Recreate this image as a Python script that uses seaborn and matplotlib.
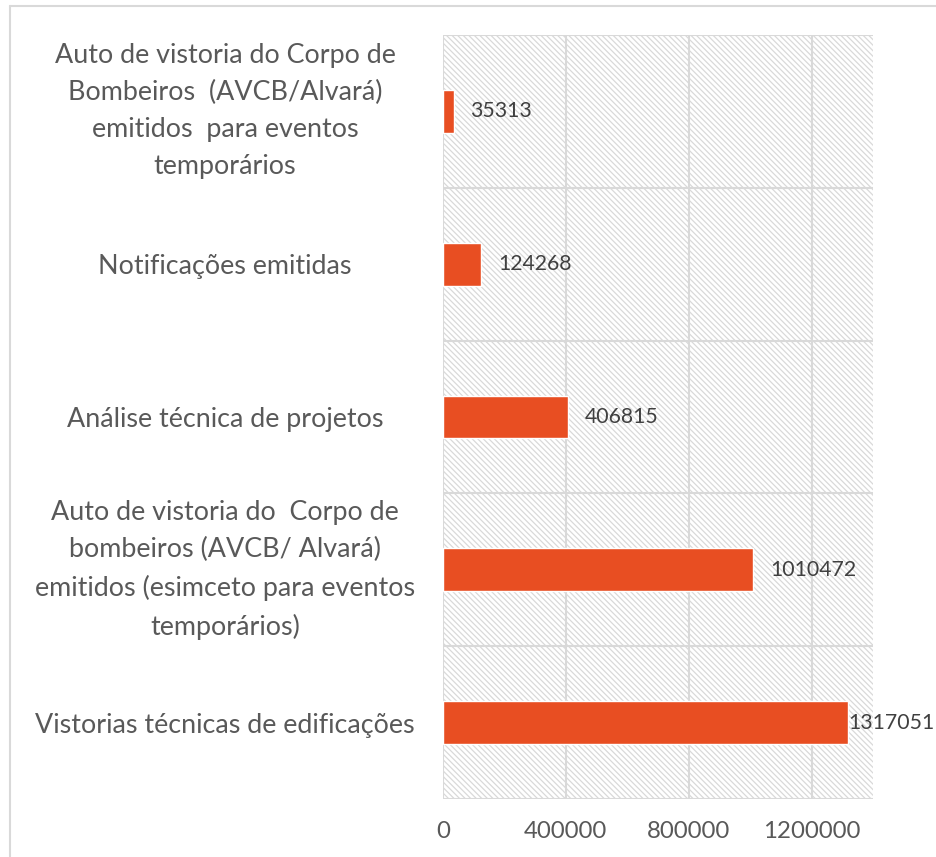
import matplotlib
matplotlib.use("Agg")
import matplotlib.pyplot as plt
import seaborn as sns
import pandas as pd
from matplotlib.patches import Rectangle
from matplotlib.lines import Line2D

categories = [
    "Auto de vistoria do Corpo de\nBombeiros  (AVCB/Alvará)\nemitidos  para eventos\ntemporários",
    "Notificações emitidas",
    "Análise técnica de projetos",
    "Auto de vistoria do  Corpo de\nbombeiros (AVCB/ Alvará)\nemitidos (esimceto para eventos\ntemporários)",
    "Vistorias técnicas de edificações",
]
values = [35313, 124268, 406815, 1010472, 1317051]
x_ticks = [0, 400000, 800000, 1200000]

BAR = "#E84E22"
GRID = "#D9D9D9"

df = pd.DataFrame({"categoria": categories, "valor": values})

sns.set_theme(style="white")
plt.rcParams["font.family"] = ["Lato", "DejaVu Sans"]
plt.rcParams["hatch.linewidth"] = 0.9

fig = plt.figure(figsize=(9.37, 8.57), dpi=100)
ax = fig.add_axes([443 / 937, 1 - 799 / 857, 430 / 937, 764 / 857])

# hatched plot area background
ax.add_patch(Rectangle((0, 0), 1, 1, transform=ax.transAxes, facecolor="white",
                       edgecolor=GRID, hatch="\\\\\\\\\\\\", linewidth=0, zorder=0))

sns.barplot(data=df, x="valor", y="categoria", orient="h", color=BAR,
            width=0.28, saturation=1, ax=ax, zorder=3)

ax.set_xlim(0, 1400000)
ax.set_ylim(4.5, -0.5)
ax.set_xticks(x_ticks)
ax.set_xticklabels([str(t) for t in x_ticks], fontsize=17.3, color="#595959")
ax.tick_params(axis="x", length=0, pad=16)

ax.set_yticks(range(len(categories)))
ax.set_yticklabels(categories, fontsize=19.4, color="#595959",
                   ha="center", multialignment="center", linespacing=1.6)
for lab in ax.get_yticklabels():
    if "\n" in lab.get_text():
        lab.set_va("center")
ax.tick_params(axis="y", which="major", length=0, pad=157)
ax.set_yticks([i - 0.5 for i in range(len(categories) + 1)], minor=True)
ax.tick_params(axis="y", which="minor", length=6, width=1.5, color=GRID)

for x in x_ticks:
    ax.axvline(x, color=GRID, linewidth=1.5, zorder=1)
for y in [i - 0.5 for i in range(len(categories) + 1)]:
    ax.axhline(y, color=GRID, linewidth=1.5, zorder=1)

for s in ax.spines.values():
    s.set_visible(False)
ax.set_xlabel("")
ax.set_ylabel("")

labels = []
for i, v in enumerate(values):
    t = ax.annotate(str(v), xy=(v, i), xytext=(12, 0), textcoords="offset points",
                    va="center", ha="left", fontsize=15.3, color="#404040", zorder=4,
                    annotation_clip=False)
    labels.append(t)

# keep labels inside the chart area, like the spreadsheet does
fig.canvas.draw()
renderer = fig.canvas.get_renderer()
fig_w = fig.bbox.width
for t in labels:
    bb = t.get_window_extent(renderer)
    over = bb.x1 - (fig_w - 2)
    if over > 0:
        ox, oy = t.xyann
        t.xyann = (ox - over * 72 / fig.dpi, oy)

# chart border (top and left edges)
fig.add_artist(Line2D([10 / 937, 1], [1 - 6 / 857, 1 - 6 / 857], color=GRID, linewidth=1.5))
fig.add_artist(Line2D([10 / 937, 10 / 937], [0, 1 - 6 / 857], color=GRID, linewidth=1.5))

fig.savefig("out.png", dpi=100)
